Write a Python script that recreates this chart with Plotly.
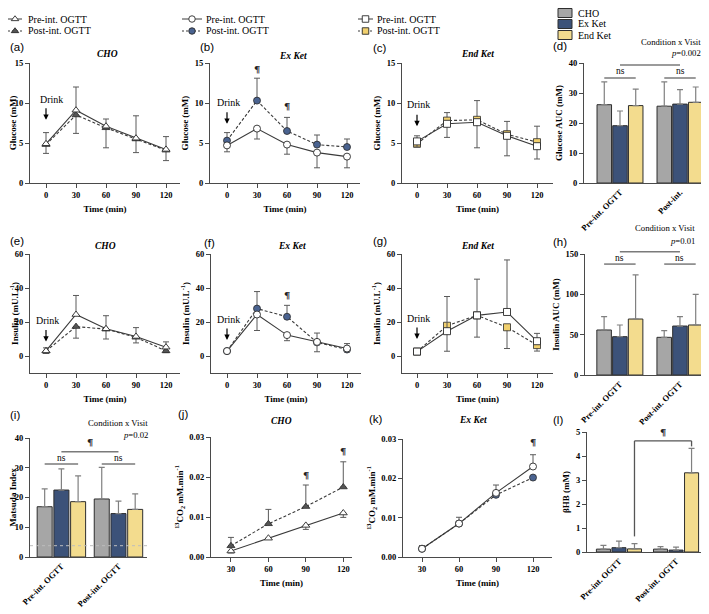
import plotly.graph_objects as go

# The page body adds an 8 px margin, so the figure is drawn 8 px in from the
# top-left of the window; all pixel positions below are window pixels.
WIN_W, WIN_H = 709, 614
OX, OY = 8, 8
W, H = WIN_W - OX, WIN_H - OY

# ---------------- data ----------------
time_ogtt = [0, 30, 60, 90, 120]
time_co2 = [30, 60, 90, 120]
visits = ["Pre-int. OGTT", "Post-int. OGTT"]
visits_short_d = ["Pre-int. OGTT", "Post-int."]
conditions = ["CHO", "Ex Ket", "End Ket"]
series_names = ["Pre-int. OGTT", "Post-int. OGTT"]

# (a) glucose, CHO
glu_cho_pre = [4.9, 9.1, 7.1, 5.6, 4.2]
glu_cho_pre_sd = [1.4, 2.9, 0.9, 2.8, 1.6]
glu_cho_post = [4.8, 8.5, 6.9, 5.5, 4.1]
glu_cho_post_sd = [1.1, 2.3, 2.5, 1.7, 1.3]
# (b) glucose, Ex Ket
glu_ex_pre = [4.7, 6.8, 4.8, 3.8, 3.3]
glu_ex_pre_sd = [0.8, 1.3, 1.2, 1.9, 1.4]
glu_ex_post = [5.3, 10.3, 6.5, 4.8, 4.5]
glu_ex_post_sd = [1.0, 2.8, 1.7, 1.2, 1.0]
# (c) glucose, End Ket
glu_end_pre = [5.2, 7.4, 7.6, 5.9, 4.6]
glu_end_pre_sd = [0.7, 1.7, 3.2, 2.5, 1.6]
glu_end_post = [4.9, 7.8, 7.9, 6.1, 5.1]
glu_end_post_sd = [1.0, 1.0, 2.4, 1.6, 2.0]
# (d) glucose AUC
glu_auc_pre = [26.1, 19.1, 25.8]
glu_auc_pre_sd = [7.6, 4.9, 5.5]
glu_auc_post = [25.6, 26.3, 26.9]
glu_auc_post_sd = [8.1, 4.8, 5.1]
# (e) insulin, CHO
ins_cho_pre = [3.0, 24.4, 16.0, 11.5, 5.2]
ins_cho_pre_sd = [1.8, 11.2, 7.7, 5.2, 3.1]
ins_cho_post = [2.9, 17.3, 15.8, 11.0, 3.0]
ins_cho_post_sd = [1.4, 6.8, 5.8, 3.3, 1.0]
# (f) insulin, Ex Ket
ins_ex_pre = [2.9, 24.4, 12.3, 8.3, 4.4]
ins_ex_pre_sd = [0.5, 9.4, 3.3, 5.8, 1.9]
ins_ex_post = [2.9, 27.9, 23.1, 8.0, 3.8]
ins_ex_post_sd = [0.5, 10.0, 6.7, 5.5, 3.5]
# (g) insulin, End Ket
ins_end_pre = [2.6, 14.6, 23.9, 25.9, 8.7]
ins_end_pre_sd = [0.5, 20.4, 21.3, 30.6, 4.6]
ins_end_post = [2.6, 17.8, 23.9, 16.9, 6.4]
ins_end_post_sd = [0.5, 15.0, 12.8, 12.5, 3.5]
# (h) insulin AUC
ins_auc_pre = [55.8, 47.5, 69.4]
ins_auc_pre_sd = [16.5, 14.5, 54.6]
ins_auc_post = [46.7, 60.7, 62.0]
ins_auc_post_sd = [8.3, 11.6, 38.0]
# (i) Matsuda index
mat_pre = [16.9, 22.5, 18.6]
mat_pre_sd = [6.0, 7.1, 8.7]
mat_post = [19.5, 14.6, 16.0]
mat_post_sd = [10.6, 4.2, 5.2]
matsuda_ref = 3.8
# (j) 13CO2, CHO
co2_cho_pre = [0.0015, 0.0047, 0.0079, 0.0110]
co2_cho_pre_sd = [0.0005, 0.0003, 0.0010, 0.0011]
co2_cho_post = [0.0028, 0.0083, 0.0126, 0.0175]
co2_cho_post_sd = [0.0021, 0.0036, 0.0054, 0.0063]
# (k) 13CO2, Ex Ket
co2_ex_pre = [0.0021, 0.0085, 0.0163, 0.0230]
co2_ex_pre_sd = [0.0008, 0.0016, 0.0020, 0.0030]
co2_ex_post = [0.0021, 0.0085, 0.0158, 0.0202]
co2_ex_post_sd = [0.0003, 0.0003, 0.0005, 0.0003]
# (l) beta-hydroxybutyrate
bhb_pre = [0.12, 0.18, 0.13]
bhb_pre_sd = [0.16, 0.27, 0.22]
bhb_post = [0.12, 0.08, 3.30]
bhb_post_sd = [0.10, 0.12, 1.02]

# ---------------- styles ----------------
SERIF = "Liberation Serif"
SANS = "Liberation Sans"
AXC = "#4a4a4a"
LINEC = "#3a3a3a"
ERRC = "#5a5a5a"
BAR_COLORS = ["#a6a6a6", "#3c5279", "#f3dc8e"]
MARK_POST = {"tri": "#555555", "navy": "#4a6390", "yellow": "#f1d06e"}

fig = go.Figure()
layout = dict(width=W, height=H, margin=dict(l=0, r=0, t=0, b=0, autoexpand=False),
              paper_bgcolor="white", plot_bgcolor="rgba(0,0,0,0)",
              showlegend=False, barmode="overlay")
annotations = []
shapes = []


def fx_px(px):
    return (px - OX) / W


def fy_px(py):
    return 1 - (py - OY) / H


def ids(n):
    return ("x", "y") if n == 1 else (f"x{n}", f"y{n}")


def axkey(n):
    return ("xaxis", "yaxis") if n == 1 else (f"xaxis{n}", f"yaxis{n}")


tickfont = dict(family=SERIF, size=8.5, color="black", weight="bold")
titlefont = dict(family=SERIF, size=9, color="black", weight="bold")
common = dict(showline=True, linecolor=AXC, linewidth=1.3, ticks="outside",
              ticklen=4, tickwidth=1.3, tickcolor=AXC, showgrid=False,
              zeroline=False, tickfont=tickfont, fixedrange=True, automargin=False)

geo = {}


def make_axes(n, xpx, ypx, xr, yr, xkw=None, ykw=None):
    xk, yk = axkey(n)
    xi, yi = ids(n)
    xa = dict(common, domain=[fx_px(xpx[0]), fx_px(xpx[1])], range=xr, anchor=yi)
    ya = dict(common, domain=[fy_px(ypx[1]), fy_px(ypx[0])], range=yr, anchor=xi)
    xa.update(xkw or {})
    ya.update(ykw or {})
    layout[xk] = xa
    layout[yk] = ya
    geo[n] = (xr, yr)


def time_x(title=True, vals=time_ogtt):
    d = dict(tickvals=vals, ticktext=[str(v) for v in vals])
    if title:
        d["title"] = dict(text="Time (min)", font=titlefont, standoff=6)
    return d


def ytitle(text, vals, fmt=None):
    d = dict(tickvals=vals, title=dict(text=text, font=titlefont, standoff=4))
    if fmt:
        d["tickformat"] = fmt
    return d


def line_panel(n, times, pre, pre_sd, pre_up, post, post_sd, symbol, post_color):
    xi, yi = ids(n)
    z = [0] * len(times)
    # post (dashed, filled)
    fig.add_trace(go.Scatter(
        x=times, y=post, xaxis=xi, yaxis=yi, mode="lines+markers",
        line=dict(color=LINEC, width=1.1, dash="3px,2px"),
        marker=dict(symbol=symbol, size=7, color=post_color,
                    line=dict(color="#2a2a2a", width=0.8)),
        error_y=dict(type="data", symmetric=False,
                     array=(z if pre_up else post_sd),
                     arrayminus=(post_sd if pre_up else z),
                     color=ERRC, thickness=1, width=3),
        hoverinfo="skip"))
    # pre (solid, open)
    fig.add_trace(go.Scatter(
        x=times, y=pre, xaxis=xi, yaxis=yi, mode="lines+markers",
        line=dict(color=LINEC, width=1.1),
        marker=dict(symbol=symbol, size=7, color="white",
                    line=dict(color="#2a2a2a", width=0.9)),
        error_y=dict(type="data", symmetric=False,
                     array=(pre_sd if pre_up else z),
                     arrayminus=(z if pre_up else pre_sd),
                     color=ERRC, thickness=1, width=3),
        hoverinfo="skip"))


def bar_panel(n, pre, pre_sd, post, post_sd, slot, width):
    xi, yi = ids(n)
    for k, cond in enumerate(conditions):
        fig.add_trace(go.Bar(
            x=visits, y=[pre[k], post[k]], name=cond, xaxis=xi, yaxis=yi,
            offset=-width / 2 + (k - 1) * slot, width=width,
            marker=dict(color=BAR_COLORS[k], line=dict(color="#2e2e2e", width=1)),
            error_y=dict(type="data", symmetric=False,
                         array=[pre_sd[k], post_sd[k]], arrayminus=[0, 0],
                         color="#808080", thickness=1.2, width=3),
            hoverinfo="skip"))


def cat_x(labels=None):
    d = dict(type="category", ticks="", tickangle=-45,
             tickfont=dict(family=SERIF, size=8.5, color="black", weight="bold"))
    if labels:
        d["tickvals"] = visits
        d["ticktext"] = labels
    return d


# ---------------- axes ----------------
make_axes(1, (30, 180), (63, 183), [-16, 134], [0, 15], time_x(), ytitle("Glucose (mM)", [0, 5, 10, 15]))
make_axes(2, (210, 360), (63, 183), [-17, 133], [0, 15], time_x(), ytitle("Glucose (mM)", [0, 5, 10, 15]))
make_axes(3, (402, 553), (63, 183), [-15, 136], [0, 15], time_x(), ytitle("Glucose (mM)", [0, 5, 10, 15]))
make_axes(4, (584, 707), (63, 183), [-0.6, 1.45], [0, 40], cat_x(visits_short_d),
          ytitle("Glucose AUC (mM)", [0, 10, 20, 30, 40]))
ins_t = "Insulin (mU.L<sup>-1</sup>)"
make_axes(5, (30, 180), (254, 373), [-16, 134], [-10, 60], time_x(), ytitle(ins_t, [0, 20, 40, 60]))
make_axes(6, (211, 361), (254, 373), [-16, 134], [-10, 60], time_x(), ytitle(ins_t, [0, 20, 40, 60]))
make_axes(7, (402, 553), (254, 373), [-15, 136], [-10, 60], time_x(), ytitle(ins_t, [0, 20, 40, 60]))
make_axes(8, (585, 707), (254, 375), [-0.58, 1.45], [0, 150], cat_x(), ytitle("Insulin AUC (mM)", [0, 50, 100, 150]))
make_axes(9, (30, 147), (438, 557), [-0.55, 1.5], [0, 40], cat_x(), ytitle("Matsuda Index", [0, 10, 20, 30, 40]))
co2_t = "<sup>13</sup>CO<sub>2</sub> mM.min<sup>-1</sup>"
make_axes(10, (211, 352), (437, 557), [14, 127], [0, 0.03], time_x(vals=time_co2),
          ytitle(co2_t, [0, 0.01, 0.02, 0.03], ".2f"))
make_axes(11, (403, 552), (439, 557), [14.6, 135.4], [0, 0.03], time_x(vals=time_co2),
          ytitle(co2_t, [0, 0.01, 0.02, 0.03], ".2f"))
make_axes(12, (587, 708), (432, 552), [-0.56, 1.56], [0, 5], cat_x(), ytitle("βHB (mM)", [0, 1, 2, 3, 4, 5]))

# ---------------- traces ----------------
line_panel(1, time_ogtt, glu_cho_pre, glu_cho_pre_sd, True, glu_cho_post, glu_cho_post_sd, "triangle-up", MARK_POST["tri"])
line_panel(2, time_ogtt, glu_ex_pre, glu_ex_pre_sd, False, glu_ex_post, glu_ex_post_sd, "circle", MARK_POST["navy"])
line_panel(3, time_ogtt, glu_end_pre, glu_end_pre_sd, False, glu_end_post, glu_end_post_sd, "square", MARK_POST["yellow"])
line_panel(5, time_ogtt, ins_cho_pre, ins_cho_pre_sd, True, ins_cho_post, ins_cho_post_sd, "triangle-up", MARK_POST["tri"])
line_panel(6, time_ogtt, ins_ex_pre, ins_ex_pre_sd, False, ins_ex_post, ins_ex_post_sd, "circle", MARK_POST["navy"])
line_panel(7, time_ogtt, ins_end_pre, ins_end_pre_sd, True, ins_end_post, ins_end_post_sd, "square", MARK_POST["yellow"])
line_panel(10, time_co2, co2_cho_pre, co2_cho_pre_sd, False, co2_cho_post, co2_cho_post_sd, "triangle-up", MARK_POST["tri"])
line_panel(11, time_co2, co2_ex_pre, co2_ex_pre_sd, True, co2_ex_post, co2_ex_post_sd, "circle", MARK_POST["navy"])

bar_geo = {4: (0.262, 0.242), 8: (0.262, 0.242), 9: (0.293, 0.263), 12: (0.272, 0.246)}
bar_panel(4, glu_auc_pre, glu_auc_pre_sd, glu_auc_post, glu_auc_post_sd, *bar_geo[4])
bar_panel(8, ins_auc_pre, ins_auc_pre_sd, ins_auc_post, ins_auc_post_sd, *bar_geo[8])
bar_panel(9, mat_pre, mat_pre_sd, mat_post, mat_post_sd, *bar_geo[9])
bar_panel(12, bhb_pre, bhb_pre_sd, bhb_post, bhb_post_sd, *bar_geo[12])


# ---------------- annotations ----------------
def ptxt(xpx, ypx, text, size=9, family=SERIF, xanchor="center", weight="normal", style="normal", color="black"):
    annotations.append(dict(xref="paper", yref="paper", x=fx_px(xpx), y=fy_px(ypx), text=text,
                            showarrow=False, xanchor=xanchor, yanchor="middle",
                            font=dict(family=family, size=size, color=color, weight=weight, style=style)))


def dtxt(n, x, y, text, size=9, weight="normal", family=SERIF, xanchor="center", color="black"):
    xi, yi = ids(n)
    annotations.append(dict(xref=xi, yref=yi, x=x, y=y, text=text, showarrow=False,
                            xanchor=xanchor, yanchor="middle",
                            font=dict(family=family, size=size, color=color, weight=weight)))


def drink(n, x_txt, y_txt, y_tip):
    xi, yi = ids(n)
    dtxt(n, x_txt, y_txt, "Drink", size=10)
    annotations.append(dict(xref=xi, yref=yi, x=0, y=y_tip, ax=0, ay=-13, text="",
                            showarrow=True, arrowhead=2, arrowsize=0.9, arrowwidth=1.2,
                            arrowcolor="black", standoff=0, startstandoff=0))


# panel letters
for lab, xp, yp in [("(a)", 8, 47), ("(b)", 198, 47), ("(c)", 371, 48), ("(d)", 551, 46),
                    ("(e)", 8, 241), ("(f)", 202, 243), ("(g)", 371, 241), ("(h)", 551, 242),
                    ("(i)", 8, 415), ("(j)", 176, 414), ("(k)", 367, 419), ("(l)", 551, 420)]:
    ptxt(xp, yp, lab, size=11.5, family=SANS, xanchor="left")

# panel titles
for t, xp, yp in [("CHO", 107, 54), ("Ex Ket", 293, 56), ("End Ket", 477, 54),
                  ("CHO", 105, 246), ("Ex Ket", 292, 246), ("End Ket", 477, 246),
                  ("CHO", 281, 421), ("Ex Ket", 473, 420)]:
    ptxt(xp, yp, t, size=9.5, weight="bold", style="italic")

drink(1, 5, 10.4, 7.9)
drink(2, 1.5, 10.1, 7.4)
drink(3, 1.5, 9.8, 7.1)
drink(5, 1.5, 21, 8.5)
drink(6, 1.5, 21.3, 9.4)
drink(7, 1.5, 22, 10)

PIL = "¶"
PILFONT = "DejaVu Serif"
PILC = "#222222"
dtxt(2, 30, 14.2, PIL, size=10, weight="bold", family=PILFONT, color=PILC)
dtxt(2, 60, 9.6, PIL, size=10, weight="bold", family=PILFONT, color=PILC)
dtxt(6, 60, 35.5, PIL, size=10, weight="bold", family=PILFONT, color=PILC)
dtxt(10, 90, 0.0205, PIL, size=10, weight="bold", family=PILFONT, color=PILC)
dtxt(10, 120, 0.0265, PIL, size=10, weight="bold", family=PILFONT, color=PILC)
dtxt(11, 120, 0.0290, PIL, size=10, weight="bold", family=PILFONT, color=PILC)

# condition x visit labels
for xp, y1, y2, p in [(703, 42, 53, "0.002"), (697, 228, 241, "0.01"), (150, 423, 435, "0.02")]:
    ptxt(xp, y1, "Condition x Visit", size=8.7, xanchor="right")
    ptxt(xp, y2, "<i>p</i>=" + p, size=8.7, xanchor="right")


def brk(n, x0, x1, y, color="#7a7a7a", width=1.5, y_end0=None, y_end1=None):
    xr, yr = geo[n]
    xi, yi = ids(n)
    fx = lambda v: (v - xr[0]) / (xr[1] - xr[0])
    fy = lambda v: (v - yr[0]) / (yr[1] - yr[0])
    shapes.append(dict(type="line", xref=f"{xi} domain", yref=f"{yi} domain",
                       x0=fx(x0), x1=fx(x1), y0=fy(y), y1=fy(y),
                       line=dict(color=color, width=width)))
    if y_end0 is not None:
        shapes.append(dict(type="line", xref=f"{xi} domain", yref=f"{yi} domain",
                           x0=fx(x0), x1=fx(x0), y0=fy(y), y1=fy(y_end0),
                           line=dict(color=color, width=width)))
    if y_end1 is not None:
        shapes.append(dict(type="line", xref=f"{xi} domain", yref=f"{yi} domain",
                           x0=fx(x1), x1=fx(x1), y0=fy(y), y1=fy(y_end1),
                           line=dict(color=color, width=width)))


def sig_panel(n, y_ns_line, y_ns_txt, y_top, y_pil):
    slot = bar_geo[n][0]
    for c in (0, 1):
        brk(n, c - slot, c + slot, y_ns_line)
        dtxt(n, c, y_ns_txt, "ns", size=9.5)
    brk(n, 0, 1, y_top)
    dtxt(n, 0.5, y_pil, PIL, size=10, weight="bold", family=PILFONT, color=PILC)


sig_panel(4, 35.0, 37.3, 39.3, 42.5)
sig_panel(8, 137.5, 144.5, 152.8, 163.5)
sig_panel(9, 31.3, 33.4, 35.4, 38.6)
slot12 = bar_geo[12][0]
brk(12, 0 + slot12, 1 + slot12, 4.63, y_end0=0.65, y_end1=4.4, color="#555555", width=1.3)
dtxt(12, 0.5 + slot12, 5.0, PIL, size=10, weight="bold", family=PILFONT, color=PILC)

# Matsuda reference line
shapes.append(dict(type="line", xref="x9 domain", yref="y9", x0=0, x1=1, y0=matsuda_ref, y1=matsuda_ref,
                   line=dict(color="#bdbdbd", width=1, dash="dot")))

# ---------------- manual legends (overlay axis in window pixel units) ----------------
layout["xaxis13"] = dict(domain=[0, 1], range=[OX, OX + W], visible=False, fixedrange=True, automargin=False)
layout["yaxis13"] = dict(domain=[0, 1], range=[OY + H, OY], visible=False, fixedrange=True, automargin=False)


def leg_line(x0, x1, y, dash, symbol, fill, text, tx):
    fig.add_trace(go.Scatter(x=[x0, x1], y=[y, y], xaxis="x13", yaxis="y13", mode="lines",
                             line=dict(color=LINEC, width=1, dash=dash), hoverinfo="skip"))
    fig.add_trace(go.Scatter(x=[(x0 + x1) / 2], y=[y], xaxis="x13", yaxis="y13", mode="markers",
                             marker=dict(symbol=symbol, size=6.5, color=fill,
                                         line=dict(color="#2a2a2a", width=0.9)), hoverinfo="skip"))
    ptxt(tx, y, text, size=10, xanchor="left")


for (x0, x1, tx, sym, fill) in [(8, 22, 26, "triangle-up", MARK_POST["tri"]),
                                (182, 202, 204, "circle", MARK_POST["navy"]),
                                (358, 373, 375, "square", MARK_POST["yellow"])]:
    leg_line(x0, x1, 19, "solid", sym, "white", series_names[0], tx)
    leg_line(x0, x1, 31, "2px,2px", sym, fill, series_names[1], tx)

for k, (cond, yc) in enumerate(zip(conditions, [13, 24, 35])):
    shapes.append(dict(type="rect", xref="paper", yref="paper",
                       x0=fx_px(558), x1=fx_px(572), y0=fy_px(yc + 4.5), y1=fy_px(yc - 4.5),
                       fillcolor=BAR_COLORS[k], line=dict(color="#2e2e2e", width=1)))
    ptxt(576, yc, cond, size=10, xanchor="left")

layout["annotations"] = annotations
layout["shapes"] = shapes
fig.update_layout(**layout)
fig.write_html("out.html")
